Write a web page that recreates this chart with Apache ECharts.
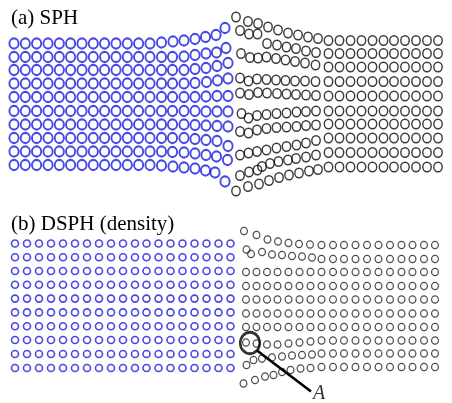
<!DOCTYPE html>
<html>
<head>
<meta charset="utf-8">
<script src="https://cdn.jsdelivr.net/npm/echarts@6/dist/echarts.min.js"></script>
<style>
  html, body { margin: 0; padding: 0; background: #fff; }
  #chart { width: 452px; height: 403px; }
</style>
</head>
<body>
<div id="chart"></div>
<script>
// Particle positions for two impact simulations (x across, y down).
// Panel (a): standard SPH. Panel (b): density-based DSPH.

// ---- (a) SPH, left body (blue) ----
const aBlueCols = [14, 25.3, 36.6, 48, 59.3, 70.6, 82, 93.3, 104.6, 116, 127.3, 138.6, 150];
const aBlueRows = [43.5, 57, 70, 83.5, 97, 111, 124.5, 138, 151.5, 165];
// particles close to the contact face, one list per row
const aBlueEdge = [
  [[161.5, 42.5], [173, 41.5], [184, 40.5], [195, 39], [205.5, 37], [216, 35], [225, 28]],
  [[161.5, 57], [172.5, 57], [184, 56.5], [195, 55], [206, 53.5], [216.5, 52.5], [226, 48]],
  [[161.5, 70], [172.5, 70], [184, 70], [195, 69], [206, 68], [217, 66], [228, 63]],
  [[161.5, 83.5], [172.5, 83.5], [184, 83.5], [195, 83], [206.5, 82], [217.5, 80.5], [228, 78.5]],
  [[161.5, 97], [172.5, 97], [184, 97], [195, 97], [206, 96.5], [217, 96], [228, 96]],
  [[161.5, 111], [172.5, 111], [184, 111], [195, 111], [206, 111.5], [217, 111.5], [228, 111.5]],
  [[161.5, 124.5], [172.5, 124.5], [184, 124.5], [195, 125], [206, 125.5], [217, 126], [228, 126.5]],
  [[161.5, 138], [172.5, 138], [184, 138], [195, 139], [206, 140], [217, 141], [228, 146]],
  [[161.5, 151.5], [172.5, 152], [184, 152.5], [195, 153.5], [206, 155], [216.5, 156.5], [227.5, 160]],
  [[161.5, 165.5], [173, 166.5], [184, 167.5], [195, 168.5], [205.5, 170.5], [215, 172.5], [225, 181.5]]
];

// ---- (a) SPH, right body (black) ----
const aBlackCols = [328.5, 339.5, 350.5, 361.5, 372.5, 383.5, 394, 405, 416, 427, 438];
const aBlackRows = [40.5, 53.5, 67, 81.5, 96, 111, 124, 138, 152.5, 167];
const aBlackEdge = [
  [[236, 17], [248, 21.5], [258, 23.5], [268, 27], [278, 30], [288, 33], [298, 35], [308, 37], [318, 38.5]],
  [[267, 43.5], [277, 45], [286.5, 47], [296, 48.5], [306, 51], [316, 52.5]],
  [[241, 53.5], [250, 57.5], [258, 58], [266.5, 57], [276, 58.5], [285.5, 60], [295, 61.5], [305, 63], [315.5, 65]],
  [[240, 78], [248.5, 81], [257, 79], [266.5, 79.5], [276, 80], [285.5, 80.5], [295, 81], [305, 81], [315.5, 81.5]],
  [[240, 93], [249, 94.5], [258, 92.5], [267, 93], [277, 93.5], [286.5, 94], [296, 94.5], [306, 95], [316, 95.5]],
  [[241.5, 113.5], [248.5, 118], [257, 115.5], [266.5, 114.5], [276.5, 113.5], [286.5, 113], [296.5, 112], [306, 111.5], [316, 111]],
  [[240, 131.5], [248.5, 133], [257, 130], [266.5, 128.5], [276.5, 127.5], [286.5, 127], [296.5, 126.5], [306, 125.5], [316, 125]],
  [[240, 155], [248.5, 153], [257, 151.5], [266.5, 150], [276.5, 148], [286.5, 146.5], [296.5, 145], [306, 143], [316, 140.5]],
  [[262, 166.5], [270, 163.5], [278.5, 161.5], [288, 160], [296, 158.5], [306, 157], [316, 155]],
  [[236, 191], [248, 186.5], [259, 184], [269, 180.5], [279, 177.5], [289, 175], [299, 173], [309, 171], [318, 169.5]]
];
const aBlackLoose = [[240, 30.5], [249, 34], [257.5, 34], [240, 175.5], [249, 172], [257.5, 170]];

// ---- (b) DSPH (density), left body (blue) ----
const bBlueCols = [15, 27, 39, 51, 63, 75, 87, 99, 111, 123, 135, 146.5, 158.5, 170.5, 182.5, 194.5, 206.5, 218.5, 230.5];
const bBlueRows = [43.5, 57.3, 71, 84.8, 98.6, 112.4, 126.2, 140, 154, 168];

// ---- (b) DSPH (density), right body (black) ----
const bBlackCols = [246, 256.5, 267, 277.5, 288.5, 299.5, 310.5, 321.5, 333, 344, 355.5, 367, 378.5, 390, 401.5, 412.5, 424, 435];
const bBlackRows = [45, 59, 72, 86, 99.5, 113.5, 127, 140.5, 153.5, 167];
// rows disturbed near the contact face (empty = undisturbed row)
const bBlackEdge = [
  [[244, 31], [256.5, 35], [267.5, 39.5], [278, 41.5], [288.5, 43], [299, 44], [310, 44.5]],
  [[246.5, 49.5], [251, 54], [262, 52], [272, 54.5], [282, 55], [292, 56], [302, 56.5], [312, 57.5]],
  [], [], [], [], [],
  [[246, 142.5], [256.5, 143.5], [267, 144.5], [277.5, 144.5], [288.5, 143.5], [299.5, 142.5], [310.5, 141.5]],
  [[246.5, 165], [253.5, 160], [262, 158.5], [272, 157.5], [282, 156.5], [292, 155.5], [302, 155], [312, 154.5]],
  [[243.5, 183.5], [255, 180], [265, 176.5], [273.5, 175], [282, 172], [290.5, 170], [300.5, 168.5], [310.5, 168]]
];
const bBlackLatticeStart = 7; // first undisturbed column in a disturbed row

// particle A and its callout
const particleA = [250, 143];
const calloutLine = [[257, 150.5], [311, 191.5]];
const calloutText = [319, 193.5];

// ---- build point lists ----
function lattice(cols, rows) {
  const pts = [];
  rows.forEach(y => cols.forEach(x => pts.push([x, y])));
  return pts;
}
const aBlue = [];
aBlueRows.forEach((y, r) => {
  aBlueCols.forEach(x => aBlue.push([x, y]));
  aBlueEdge[r].forEach(p => aBlue.push(p));
});
const aBlack = [];
aBlackRows.forEach((y, r) => {
  aBlackEdge[r].forEach(p => aBlack.push(p));
  aBlackCols.forEach(x => aBlack.push([x, y]));
});
aBlackLoose.forEach(p => aBlack.push(p));

const bBlue = lattice(bBlueCols, bBlueRows);
const bBlack = [];
bBlackRows.forEach((y, r) => {
  const edge = bBlackEdge[r];
  edge.forEach(p => bBlack.push(p));
  bBlackCols.slice(edge.length ? bBlackLatticeStart : 0).forEach(x => bBlack.push([x, y]));
});

const BLUE = '#1a1ade';
const ring = (color, width) => ({ color: 'rgba(0,0,0,0)', borderColor: color, borderWidth: width });
const titleStyle = { fontFamily: 'Liberation Serif', fontSize: 21, fontWeight: 'normal', color: '#000' };

const chart = echarts.init(document.getElementById('chart'), null, { renderer: 'canvas' });
chart.setOption({
  animation: false,
  backgroundColor: '#fff',
  title: [
    { text: '(a) SPH', left: 11, top: 8, padding: 0, textStyle: titleStyle },
    { text: '(b) DSPH (density)', left: 11, top: 214, padding: 0, textStyle: titleStyle }
  ],
  grid: [
    { left: 0, right: 0, top: 0, height: 200 },
    { left: 0, right: 0, top: 200, height: 203 }
  ],
  xAxis: [
    { gridIndex: 0, type: 'value', min: 0, max: 452, show: false },
    { gridIndex: 1, type: 'value', min: 0, max: 452, show: false }
  ],
  yAxis: [
    { gridIndex: 0, type: 'value', min: 0, max: 200, inverse: true, show: false },
    { gridIndex: 1, type: 'value', min: 0, max: 203, inverse: true, show: false }
  ],
  series: [
    { type: 'scatter', xAxisIndex: 0, yAxisIndex: 0, data: aBlue, symbol: 'circle',
      symbolSize: [9.2, 10.2], itemStyle: ring(BLUE, 2), silent: true },
    { type: 'scatter', xAxisIndex: 0, yAxisIndex: 0, data: aBlack, symbol: 'circle',
      symbolSize: [8.4, 9.4], itemStyle: ring('#0a0a0a', 1.5), silent: true },
    { type: 'scatter', xAxisIndex: 1, yAxisIndex: 1, data: bBlue, symbol: 'circle',
      symbolSize: 7, itemStyle: ring(BLUE, 1.6), silent: true },
    { type: 'scatter', xAxisIndex: 1, yAxisIndex: 1, data: bBlack, symbol: 'circle',
      symbolSize: [6.8, 7.4], itemStyle: ring('#1e1e1e', 1.25), silent: true },
    { type: 'scatter', xAxisIndex: 1, yAxisIndex: 1, data: [particleA], symbol: 'circle',
      symbolSize: [19.5, 21.5], itemStyle: ring('#000', 2.7), silent: true, z: 5 },
    { type: 'line', xAxisIndex: 1, yAxisIndex: 1, data: calloutLine, symbol: 'none',
      lineStyle: { color: '#000', width: 2.7 }, silent: true, z: 5 },
    { type: 'scatter', xAxisIndex: 1, yAxisIndex: 1, data: [calloutText], symbolSize: 1,
      itemStyle: { color: 'rgba(0,0,0,0)' }, silent: true, z: 6,
      label: { show: true, position: 'inside', formatter: 'A', color: '#000',
        fontFamily: 'Liberation Serif', fontStyle: 'italic', fontSize: 20 } }
  ]
});
</script>
</body>
</html>
